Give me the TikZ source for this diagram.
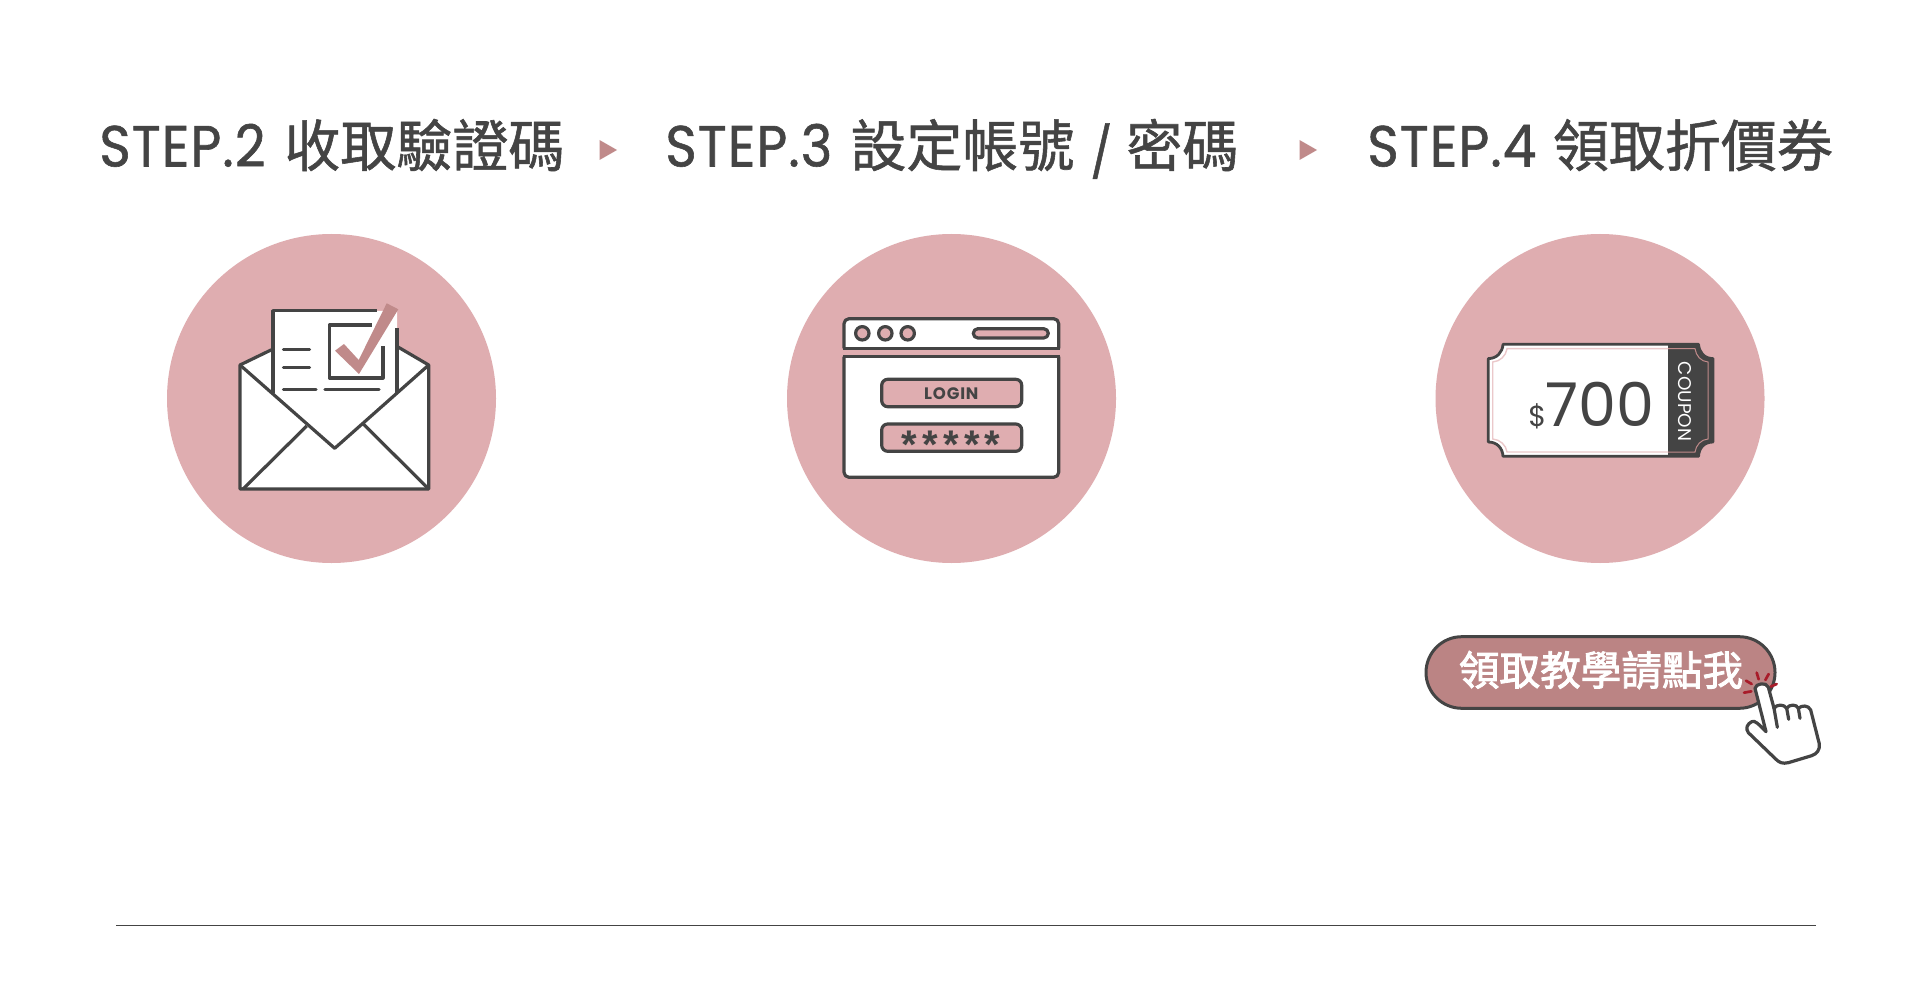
\documentclass[tikz,border=0pt]{standalone}
\usepackage{fontspec}
\setmainfont{Poppins}
\newfontfamily\cjk[FakeBold=1.0]{Noto Sans CJK TC}
\newfontfamily\cjkb[FakeBold=2.2]{Noto Sans CJK TC}
\newfontfamily\stepf[FakeStretch=0.92,LetterSpace=2,FakeBold=1.0]{Poppins}
\newfontfamily\pop{Poppins}
\newfontfamily\starf[LetterSpace=13]{Liberation Sans}
\definecolor{ink}{HTML}{444444}
\definecolor{rosec}{HTML}{DFADB0}
\definecolor{rosed}{HTML}{BB8484}
\definecolor{rosec2}{HTML}{C08A8A}
\definecolor{pale}{HTML}{EBC8CA}
\definecolor{tick}{HTML}{A81C2A}
\tikzset{
 disc/.style={fill=rosec,draw=none},
 ic/.style={draw=ink,line width=1.6pt,line join=round},
 icr/.style={ic,line cap=round},
 hd/.style={anchor=base west,inner sep=0pt,text=ink},
 arrowmark/.style={fill=rosec2,draw=none},
 tk/.style={draw=tick,line width=1.35pt,line cap=round},
}
\begin{document}
\begin{tikzpicture}[x=0.5pt,y=-0.5pt]
\useasboundingbox (0,0) rectangle (1920,989);
\fill[white] (0,0) rectangle (1920,989);
% headings
\node[hd] (s2) at (99,166.5) {\stepf\fontsize{29}{29}\selectfont STEP.2};
\node[hd] (c2) at (284,166.5) {\cjk\fontsize{28}{28}\selectfont 收取驗證碼};
\node[hd] (s3) at (665,166.5) {\stepf\fontsize{29}{29}\selectfont STEP.3};
\node[hd] (c3) at (850,166.5) {\cjk\fontsize{28}{28}\selectfont 設定帳號};
\node[hd] (c3s) at (1090,170.5) {\stepf\fontsize{25}{25}\selectfont /};
\node[hd] (c3b) at (1126,166.5) {\cjk\fontsize{28}{28}\selectfont 密碼};
\node[hd] (s4) at (1367,166.5) {\stepf\fontsize{29}{29}\selectfont STEP.4};
\node[hd] (c4) at (1552.5,166.5) {\cjk\fontsize{28}{28}\selectfont 領取折價券};
\fill[arrowmark] (599.5,140) -- (617,150) -- (599.5,160) -- cycle;
\fill[arrowmark] (1299.5,140) -- (1317,150) -- (1299.5,160) -- cycle;
% discs
\fill[disc] (331.5,398.5) circle (164.5);
\fill[disc] (951.5,398.5) circle (164.5);
\fill[disc] (1600,398.5) circle (164.5);
% envelope
\draw[ic,fill=white] (240,365) -- (271,350) -- (398,347) -- (428.7,365) -- (428.7,489) -- (240,489) -- cycle;
\fill[white] (273,311) -- (397,311) -- (397,394) -- (334.7,448.3) -- (273,394) -- cycle;
\draw[ic] (240,365) -- (334.7,448.3) -- (428.7,365);
\draw[ic] (243,489) -- (306.7,426);
\draw[ic] (428.7,489) -- (363.3,424);
\draw[ic] (273,393) -- (273,310.7) -- (377,310.7);
\draw[ic] (397,328) -- (397,393);
\draw[icr] (283.5,349.3) -- (309.5,349.3);
\draw[icr] (283.5,367.3) -- (309.5,367.3);
\draw[icr] (283.5,389.3) -- (316,389.3);
\draw[icr] (325,389.3) -- (379,389.3);
\draw[ic] (371.7,325) -- (329.3,325) -- (329.3,378) -- (383,378) -- (383,346);
\fill[rosec2] (335,350.7) -- (344,344) -- (358.7,360) -- (386.7,303.3) -- (398.3,309.3) -- (359,374) -- cycle;
% browser
\draw[ic,fill=white,rounded corners=2.5pt] (844,348.3) -- (844,318.7) -- (1058.7,318.7) -- (1058.7,348.3);
\draw[ic,fill=white,rounded corners=2.5pt] (844,356.7) -- (844,477.3) -- (1058.7,477.3) -- (1058.7,356.7);
\draw[ic] (843,348.3) -- (1059.7,348.3);
\draw[ic] (843,356.7) -- (1059.7,356.7);
\draw[ic,fill=rosec] (862.3,333.3) circle (6.7);
\draw[ic,fill=rosec] (885.3,333.3) circle (6.7);
\draw[ic,fill=rosec] (907.7,333.3) circle (6.7);
\draw[ic,fill=rosec,rounded corners=2.3pt] (973.3,328.7) rectangle (1048.3,338);
\draw[ic,fill=rosec,rounded corners=3pt] (881.7,379.3) rectangle (1021.7,406.7);
\draw[ic,fill=rosec,rounded corners=3pt] (881.7,424) rectangle (1021.7,451.3);
\node[inner sep=0pt,text=ink] (login) at (951.3,393.3) {\pop\addfontfeature{LetterSpace=5}\bfseries\fontsize{8.3}{8.3}\selectfont LOGIN};
\node[inner sep=0pt,text=ink,anchor=base] (pw) at (951.3,458.5) {\starf\bfseries\fontsize{20}{20}\selectfont *****};
% coupon
\def\tpath{(1503,344.3) -- (1698.5,344.3) .. controls (1699,352) and (1704,358.6) .. (1713,358.6) -- (1713,442) .. controls (1704,442) and (1699,448) .. (1698.5,456.3) -- (1503,456.3) .. controls (1502.5,448) and (1497,442) .. (1488.3,442) -- (1488.3,358.6) .. controls (1497,358.6) and (1502.5,352) .. (1503,344.3) -- cycle}
\draw[ic,fill=white,line width=1.4pt] \tpath;
\begin{scope}
\clip \tpath;
\fill[ink] (1668,340) rectangle (1720,460);
\end{scope}
\draw[pale,line width=0.7pt] (1668,348.7) -- (1507,348.7) .. controls (1506,356) and (1500,361.5) .. (1492.7,362) -- (1492.7,439) .. controls (1500,439.5) and (1506,445) .. (1507,452) -- (1668,452);
\draw[rosec2,line width=0.5pt] (1668,348.7) -- (1695,348.7) .. controls (1696,356) and (1701,361.5) .. (1708,362) -- (1708,439) .. controls (1701,439.5) and (1696,445) .. (1695,452) -- (1668,452);
\node[anchor=base west,inner sep=0pt,text=ink] (amt) at (1545,426.5) {\pop\fontsize{30.2}{30.2}\selectfont 700};
\node[anchor=base west,inner sep=0pt,text=ink] (dol) at (1528,426) {\pop\fontsize{14.5}{14.5}\selectfont \$};
\node[inner sep=0pt,text=white,rotate=-90] (cp) at (1685,401.5) {\pop\fontsize{9.2}{9.2}\selectfont COUPON};
% button
\draw[draw=ink,line width=1.5pt,fill=rosed,rounded corners=17.9pt] (1426,636.7) rectangle (1775,708.3);
\node[inner sep=0pt,text=white] (btn) at (1601,670) {\cjkb\fontsize{20.3}{20.3}\selectfont 領取教學請點我};
% hand
\begin{scope}[shift={(1660,650)},scale=1/3]
\draw[tk] (258,92) -- (275,102);
\draw[tk] (290,68) -- (296,88);
\draw[tk] (326,72) -- (316,90);
\draw[tk] (350,102) -- (332,110);
\draw[tk] (252,128) -- (274,124);
\draw[ic,fill=white,line cap=round] (285,115) .. controls (287,100) and (320,95) .. (325,112) -- (342,175)
 .. controls (350,162) and (372,162) .. (380,175) .. controls (388,162) and (410,162) .. (415,175)
 .. controls (425,165) and (445,165) .. (452,180) -- (478,282) .. controls (480,300) and (470,312) .. (455,317) -- (385,338)
 .. controls (368,342) and (358,338) .. (348,328) -- (265,248) .. controls (255,235) and (262,222) .. (275,215) .. controls (285,210) and (295,222) .. (318,245) -- cycle;
\draw[ic,line cap=round] (342,175) -- (352,232);
\draw[ic,line cap=round] (380,175) -- (386,208);
\draw[ic,line cap=round] (415,175) -- (420,205);
\end{scope}
% rule
\draw[draw=ink,line width=0.6pt] (116,925.7) -- (1816,925.7);
\end{tikzpicture}
\end{document}
